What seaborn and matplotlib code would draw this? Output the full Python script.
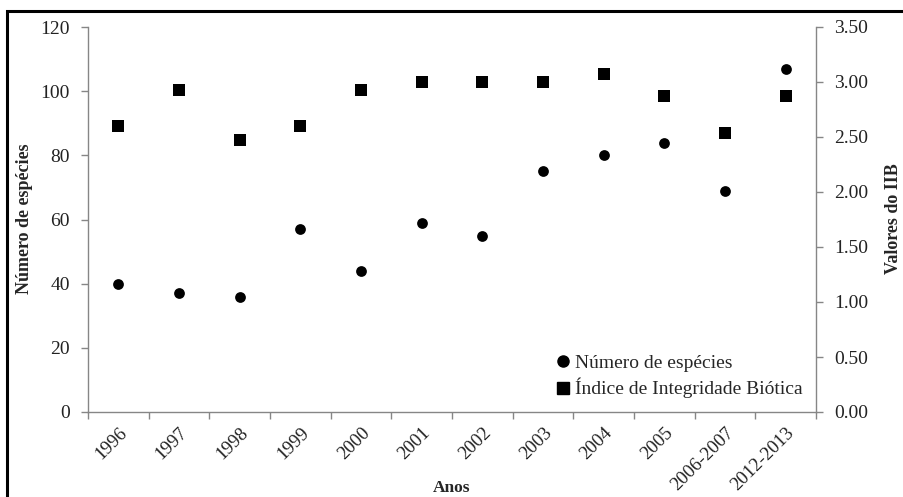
import pandas as pd
import matplotlib.pyplot as plt
import matplotlib.patches as mpatches
from matplotlib.lines import Line2D
import seaborn as sns

anos = ['1996', '1997', '1998', '1999', '2000', '2001', '2002', '2003',
        '2004', '2005', '2006-2007', '2012-2013']
especies = [40, 37, 36, 57, 44, 59, 55, 75, 80, 84, 69, 107]
iib = [2.60, 2.93, 2.47, 2.60, 2.93, 3.00, 3.00, 3.00, 3.07, 2.87, 2.54, 2.87]

data = pd.DataFrame({'Ano': anos, 'Especies': especies, 'IIB': iib})

sns.set_style('white')
plt.rcParams['font.family'] = ['Liberation Serif', 'DejaVu Serif']
grey = '#868686'

fig = plt.figure(figsize=(9.04, 4.97), dpi=100)
ax = fig.add_axes([88 / 904, 1 - 412 / 497, (816 - 88) / 904, (412 - 27) / 497])
ax2 = ax.twinx()

sns.scatterplot(data=data, x='Ano', y='Especies', ax=ax, color='black',
                marker='o', s=60, edgecolor='black', linewidth=0, zorder=3)
sns.scatterplot(data=data, x='Ano', y='IIB', ax=ax2, color='black',
                marker='s', s=70, edgecolor='black', linewidth=0, zorder=3)

n = len(anos)
ax.set_xlim(-0.5, n - 0.5)
ax.set_ylim(0, 120)
ax.set_yticks(range(0, 121, 20))
ax2.set_ylim(0, 3.5)
ax2.set_yticks([i * 0.5 for i in range(8)])
ax2.set_yticklabels([f'{i * 0.5:.2f}' for i in range(8)])

ax.set_xticks(range(n))
ax.set_xticklabels(anos, rotation=45, ha='right', rotation_mode='anchor')
ax.set_xticks([i - 0.5 for i in range(n + 1)], minor=True)
ax.tick_params(axis='x', which='major', length=0, pad=9, labelsize=13.5, colors='#222222')
ax.tick_params(axis='x', which='minor', length=5, width=1, color=grey, direction='out', bottom=True)
ax.tick_params(axis='y', length=5, width=1, color=grey, direction='out', left=True,
               labelsize=14, labelcolor='#222222', pad=8)
ax2.tick_params(axis='y', length=5, width=1, color=grey, direction='out', right=True,
                labelsize=14, labelcolor='#222222', pad=8)

for a in (ax, ax2):
    a.spines['top'].set_visible(False)
    for s in ('left', 'right', 'bottom'):
        a.spines[s].set_color(grey)
        a.spines[s].set_linewidth(1)
ax.spines['right'].set_visible(False)
ax2.spines['left'].set_visible(False)
ax2.spines['bottom'].set_visible(False)

ax.set_xlabel('')
ax.set_ylabel('')
ax2.set_ylabel('')
fig.text(452 / 904, 1 - 492 / 497, 'Anos', ha='center', va='baseline',
         fontsize=12.5, fontweight='bold')
fig.text(16 / 904, 0.56, 'Número de espécies', rotation=90, ha='left', va='center',
         fontsize=13, fontweight='bold')
fig.text(885 / 904, 0.56, 'Valores do IIB', rotation=90, ha='left', va='center',
         fontsize=13, fontweight='bold')

handles = [Line2D([], [], marker='o', color='black', linestyle='', markersize=8),
           Line2D([], [], marker='s', color='black', linestyle='', markersize=8.5)]
ax.legend(handles, ['Número de espécies', 'Índice de Integridade Biótica'],
          loc='lower right', bbox_to_anchor=(1.0, 0.0), frameon=False, fontsize=14,
          handletextpad=0.0, handlelength=1.2, labelspacing=0.3, borderaxespad=0.3)

fig.patches.append(mpatches.Rectangle((7 / 904, -0.1), 2, 1 - 11 / 497 + 0.1,
                                      transform=fig.transFigure, fill=False,
                                      edgecolor='black', linewidth=2.2))

plt.savefig('out.png', dpi=100)
